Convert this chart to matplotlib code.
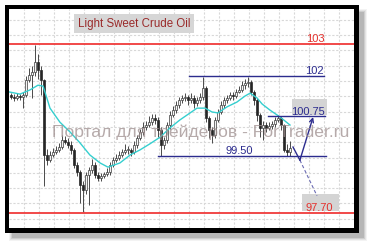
import numpy as np
import matplotlib
matplotlib.use("Agg")
import matplotlib.pyplot as plt
from matplotlib.patches import Rectangle

plt.rcParams['font.family'] = ['Liberation Sans', 'DejaVu Sans']

# candles, open of each bar = previous close
first_open = 101.40
closes = [101.34, 101.31, 101.37, 101.34, 101.40, 101.87, 102.03, 102.12, 102.44, 102.18,
          101.87, 99.52, 99.36, 99.52, 99.61, 99.68, 99.77, 99.99, 99.93, 99.83,
          99.68, 99.21, 98.99, 98.58, 98.42, 98.89, 99.05, 99.21, 98.89, 98.80,
          98.86, 98.92, 98.99, 99.21, 99.36, 99.43, 99.52, 99.61, 99.68, 99.68,
          99.61, 99.83, 100.05, 100.24, 100.40, 100.46, 100.55, 100.68, 100.62, 100.30,
          99.83, 99.99, 100.46, 100.77, 100.93, 101.09, 101.24, 101.31, 101.34, 101.24,
          101.31, 101.15, 101.24, 101.34, 101.62, 100.68, 100.30, 100.15, 100.62, 100.87,
          101.09, 101.24, 101.31, 101.40, 101.37, 101.50, 101.56, 101.71, 101.78, 101.81,
          101.50, 101.24, 100.77, 100.37, 100.46, 100.37, 100.43, 100.49, 100.62, 100.68,
          100.46, 99.68, 99.61, 99.74]
highs = [101.46, 101.43, 101.46, 101.43, 101.50, 102.00, 102.25, 102.30, 102.97, 102.70,
         102.30, 101.90, 99.70, 99.65, 99.75, 99.80, 99.90, 100.15, 100.12, 100.05,
         99.95, 99.75, 99.30, 99.05, 98.70, 99.00, 99.15, 99.40, 99.30, 98.98,
         98.95, 99.00, 99.10, 99.30, 99.45, 99.55, 99.65, 99.72, 99.85, 99.80,
         99.75, 99.95, 100.15, 100.35, 100.55, 100.60, 100.75, 100.80, 100.80, 100.70,
         100.40, 100.10, 100.55, 100.90, 101.05, 101.20, 101.35, 101.40, 101.45, 101.40,
         101.45, 101.40, 101.35, 101.45, 101.98, 101.70, 100.75, 100.40, 100.70, 100.95,
         101.20, 101.35, 101.40, 101.50, 101.50, 101.60, 101.70, 101.85, 101.90, 101.98,
         101.88, 101.55, 101.30, 100.85, 100.60, 100.55, 100.55, 100.60, 100.72, 100.78,
         100.75, 100.50, 99.85, 99.95]
lows = [101.28, 101.22, 101.25, 101.25, 101.00, 101.35, 101.80, 101.30, 102.00, 101.90,
        101.40, 98.55, 99.20, 99.30, 99.45, 99.55, 99.60, 99.70, 99.85, 99.75,
        99.55, 99.10, 98.85, 98.00, 97.72, 98.30, 97.95, 98.95, 98.80, 98.70,
        98.72, 98.80, 98.85, 98.90, 99.15, 99.30, 99.35, 99.45, 99.55, 99.55,
        99.50, 99.55, 99.75, 100.00, 100.15, 100.30, 100.40, 100.45, 100.50, 100.10,
        99.50, 99.70, 99.90, 100.35, 100.70, 100.85, 101.00, 101.15, 101.20, 101.10,
        101.15, 101.00, 101.05, 101.15, 101.25, 100.55, 100.05, 99.90, 100.05, 100.55,
        100.80, 101.00, 101.15, 101.25, 101.25, 101.30, 101.45, 101.50, 101.60, 101.65,
        101.40, 101.10, 100.60, 100.10, 100.00, 100.25, 100.30, 100.35, 100.40, 100.55,
        100.30, 99.60, 99.50, 99.50]

# moving average (turquoise)
ma_pos = [-0.7, 3, 6.3, 9, 10.7, 13, 16.3, 19.7, 23, 26.3, 29.7, 32.3, 36.3, 39.7, 43,
          46.3, 49.7, 53, 56.3, 59.7, 62, 64.7, 67, 69, 72, 75.3, 78, 79.7, 82, 83.7,
          86.3, 89.7, 93]
ma_vals = [101.50, 101.43, 101.56, 101.71, 101.68, 100.99, 100.55, 100.24, 99.90, 99.52,
           99.27, 99.14, 99.27, 99.52, 99.68, 99.87, 100.08, 100.37, 100.62, 100.84,
           100.99, 100.99, 100.87, 100.84, 101.03, 101.18, 101.37, 101.46, 101.31, 101.12,
           100.93, 100.71, 100.46]

# levels
red_levels = [103.0, 97.70]
red_labels = ["103", "97.70"]
blue_levels = [102.0, 100.75, 99.50]
blue_labels = ["102", "100.75", "99.50"]
blue_starts = [59.3, 85.7, 49.0]
blue_ends = [104.3, 104.7, 105.0]

# forecast arrow
arrow_x = [94.0, 96.3, 100.7]
arrow_y = [99.77, 99.36, 100.71]
dash_end = (102.0, 98.24)

W, H = 369, 243
fig = plt.figure(figsize=(W / 100, H / 100), dpi=100)

# frame + shadow in pixel coords
bg = fig.add_axes([0, 0, 1, 1])
bg.set_xlim(0, W)
bg.set_ylim(H, 0)
bg.axis('off')
for i, a in enumerate([0.08, 0.12, 0.18, 0.25]):
    d = 4 - i
    bg.add_patch(Rectangle((9 - d + 4, 9 - d + 4), 350 + 2 * d, 224 + 2 * d,
                           facecolor='#707070', alpha=a, edgecolor='none'))
bg.add_patch(Rectangle((5, 5), 354, 228, facecolor='black', edgecolor='none'))

ax = fig.add_axes([9 / W, 1 - 228 / H, 345 / W, 219 / H])
ax.set_facecolor('white')
ax.set_xlim(-0.667, 114.333)
ax.set_ylim(97.23, 104.10)
for s in ax.spines.values():
    s.set_visible(False)
ax.set_xticks(np.arange(4.333, 114, 5))
ax.set_yticks(np.arange(103.76, 97.2, -0.48))
ax.tick_params(length=0, labelbottom=False, labelleft=False)
ax.grid(True, color='#d8d8d8', linestyle=(0, (2, 1.5)), linewidth=0.8)
ax.set_axisbelow(True)

# candles
x = np.arange(len(closes))
opens = np.array([first_open] + closes[:-1])
closes_a = np.array(closes)
ax.vlines(x, lows, highs, color='#4a4a4a', linewidth=0.7, zorder=2)
up = closes_a >= opens
body_bottom = np.minimum(opens, closes_a)
body_h = np.maximum(np.abs(closes_a - opens), 0.02)
ax.bar(x[up], body_h[up], bottom=body_bottom[up], width=0.7, color='#f4f4f4',
       edgecolor='#3a3a3a', linewidth=0.5, zorder=3)
ax.bar(x[~up], body_h[~up], bottom=body_bottom[~up], width=0.7, color='#262626',
       edgecolor='#262626', linewidth=0.5, zorder=3)

ax.plot(ma_pos, ma_vals, color='#35cfcf', linewidth=1.0, zorder=4)

# red levels
red = '#f03a3a'
for lv in red_levels:
    ax.axhline(lv, color=red, linewidth=1.3, zorder=5)
ax.text(104.7, red_levels[0] + 0.05, red_labels[0], color='#e4302c', fontsize=8,
        ha='right', va='baseline', zorder=6)
ax.add_patch(Rectangle((97.0, 97.75), 12.3, 0.55, facecolor='#d4d4d4',
                       edgecolor='none', zorder=5))
ax.text(107.2, red_levels[1] + 0.07, red_labels[1], color='#e4302c', fontsize=8,
        ha='right', va='baseline', zorder=6)

# blue levels
navy = '#2c2c8e'
for lv, x0, x1 in zip(blue_levels, blue_starts, blue_ends):
    ax.plot([x0, x1], [lv, lv], color=navy, linewidth=1.0, zorder=5)
ax.add_patch(Rectangle((93.7, 100.78), 11.7, 0.5, facecolor='#d4d4d4',
                       edgecolor='none', zorder=4))
ax.text(104.3, blue_levels[0] + 0.05, blue_labels[0], color=navy, fontsize=8,
        ha='right', va='baseline', zorder=6)
ax.text(104.7, blue_levels[1] + 0.04, blue_labels[1], color=navy, fontsize=8,
        ha='right', va='baseline', zorder=6)
ax.text(80.7, blue_levels[2] + 0.04, blue_labels[2], color=navy, fontsize=8,
        ha='right', va='baseline', zorder=6)

# arrow
ax.plot([arrow_x[1], dash_end[0]], [arrow_y[1], dash_end[1]], color='#6c6cb4',
        linewidth=0.8, dashes=(3, 2), zorder=6)
ax.plot(arrow_x[:2], arrow_y[:2], color=navy, linewidth=1.0, zorder=6)
ax.annotate('', xy=(arrow_x[2], arrow_y[2]), xytext=(arrow_x[1], arrow_y[1]),
            arrowprops=dict(arrowstyle='->', color=navy, lw=1.0,
                            shrinkA=0, shrinkB=0, mutation_scale=7), zorder=6)

# title box
ax.add_patch(Rectangle((65 / 345, 1 - 24 / 219), 120 / 345, 19 / 219,
                       transform=ax.transAxes, facecolor='#d6d6d6',
                       edgecolor='none', zorder=7))
ax.text(125 / 345, 1 - 14.5 / 219, "Light Sweet Crude Oil", transform=ax.transAxes,
        color='#9a2a2a', fontsize=8.3, ha='center', va='center', zorder=8)

# watermark on top, slightly see-through
ax.text(43 / 345, 1 - 128 / 219, "Портал для трейдеров - ForTrader.ru",
        transform=ax.transAxes, color='#9e8e8e', alpha=0.75, fontsize=12.6,
        ha='left', va='baseline', zorder=9, clip_on=False)

fig.savefig('out.png', dpi=100)
